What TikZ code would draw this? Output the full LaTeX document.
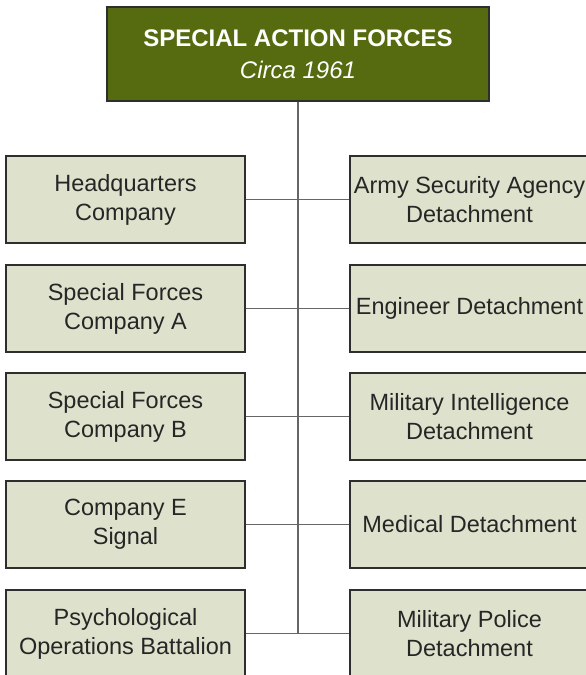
\documentclass[tikz,border=0pt]{standalone}
\usepackage{fontspec}
\setmainfont{Liberation Sans}
\usepackage{tikz}

\definecolor{olive}{HTML}{566B10}
\definecolor{sage}{HTML}{DEE2CC}
\definecolor{rim}{HTML}{2E2E2E}
\definecolor{wire}{HTML}{666666}

\tikzset{
  unit/.style={draw=rim, line width=1.1pt, fill=sage, rectangle,
    minimum width=239pt, minimum height=87pt, inner sep=1pt,
    align=center, text=black!85,
    font=\fontsize{23.5}{29}\selectfont},
  chief/.style={draw=rim, line width=1.1pt, fill=olive, rectangle,
    minimum width=382pt, minimum height=94pt, align=center,
    text=white, font=\fontsize{24}{32}\selectfont},
  link/.style={draw=wire, line width=1.6pt}
}

\begin{document}
\begin{tikzpicture}[x=1pt, y=-1pt]
  \useasboundingbox (0,0) rectangle (586,675);
  % head of the chart
  \node [chief] (saf) at (298,54) {\textbf{SPECIAL ACTION FORCES}\\\textit{Circa 1961}};
  % left column
  \node [unit] (hq) at (125.5,199.5) {Headquarters\\Company};
  \node [unit] (sfa) at (125.5,308.5) {Special Forces\\Company A};
  \node [unit] (sfb) at (125.5,416.5) {Special Forces\\Company B};
  \node [unit] (sig) at (125.5,524.5) {Company E\\Signal};
  \node [unit] (psy) at (125.5,633.5) {Psychological\\Operations Battalion};
  % right column
  \node [unit] (asa) at (469.5,199.5) {Army Security Agency\\Detachment};
  \node [unit] (eng) at (469.5,308.5) {Engineer Detachment};
  \node [unit] (mi) at (469.5,416.5) {Military Intelligence\\Detachment};
  \node [unit] (med) at (469.5,524.5) {Medical Detachment};
  \node [unit] (mp) at (469.5,633.5) {Military Police\\Detachment};
  % connectors
  \draw [link] (saf.south) -- (saf.south |- psy.east);
  \draw [link] (hq.east) -- (asa.west);
  \draw [link] (sfa.east) -- (eng.west);
  \draw [link] (sfb.east) -- (mi.west);
  \draw [link] (sig.east) -- (med.west);
  \draw [link] (psy.east) -- (mp.west);
\end{tikzpicture}
\end{document}
